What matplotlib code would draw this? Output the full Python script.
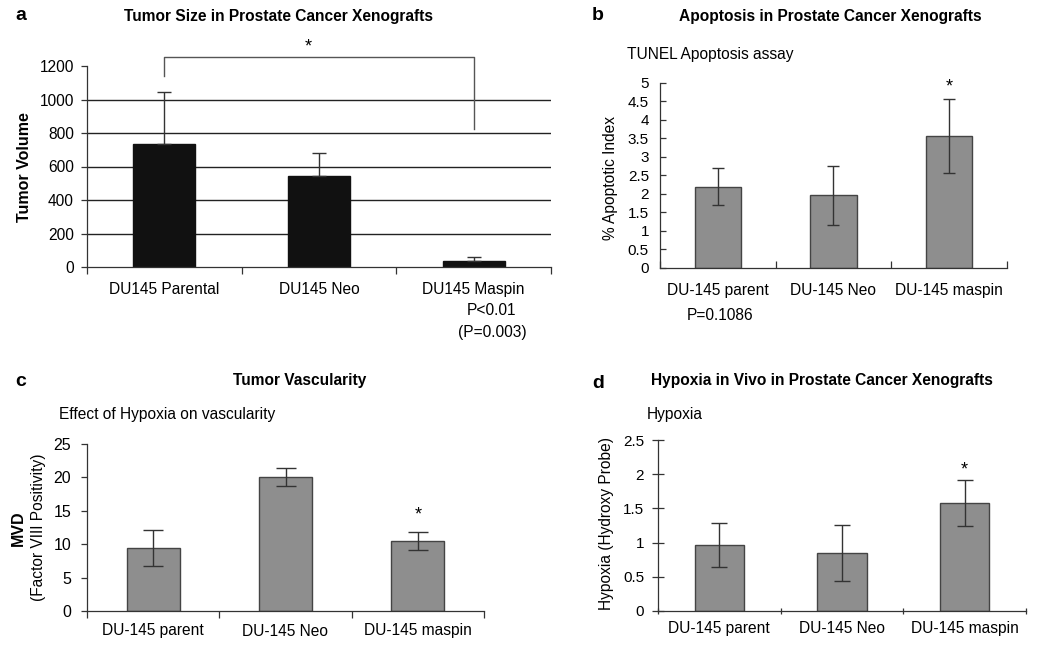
import numpy as np
import matplotlib
matplotlib.use("Agg")
import matplotlib.pyplot as plt

plt.rcParams["font.family"] = ["Liberation Sans", "DejaVu Sans"]

# ---- data -------------------------------------------------------------------
a_labels = ["DU145 Parental", "DU145 Neo", "DU145 Maspin"]
a_vol = [736, 546, 38]
a_err = [310, 136, 22]          # upper error only

cats = ["DU-145 parent", "DU-145 Neo", "DU-145 maspin"]
b_apop = [2.20, 1.97, 3.58]
b_err = [0.49, 0.80, 1.00]

c_mvd = [9.45, 20.05, 10.5]
c_err = [2.7, 1.3, 1.35]

d_hyp = [0.97, 0.85, 1.58]
d_err = [0.32, 0.41, 0.34]

W, H = 1040, 645
fig = plt.figure(figsize=(W / 100, H / 100), dpi=100)

TXT = 11.2
TTL = 11.2


def px_axes(l, t, r, b):
    return fig.add_axes([l / W, 1 - b / H, (r - l) / W, (b - t) / H])


def ftext(x, y, s, **kw):
    fig.text(x / W, 1 - y / H, s, **kw)


def style(ax, ylim, yticks, tickdir, ylen, ypad, tsize, cat_labels, xpad, xdir):
    x = np.arange(3)
    ax.set_xlim(-0.5, 2.5)
    ax.set_ylim(*ylim)
    ax.set_yticks(yticks)
    ax.set_yticklabels([f"{v:g}" for v in yticks], fontsize=tsize)
    ax.tick_params(axis="y", direction=tickdir, length=ylen, width=0.9, pad=ypad, color="#333")
    ax.set_xticks(x)
    ax.set_xticklabels(cat_labels, fontsize=TXT)
    ax.tick_params(axis="x", which="major", length=0, pad=xpad)
    ax.set_xticks([-0.5, 0.5, 1.5, 2.5], minor=True)
    ax.tick_params(axis="x", which="minor", direction=xdir, length=5, width=0.9, color="#333")
    for s in ["top", "right"]:
        ax.spines[s].set_visible(False)
    for s in ["left", "bottom"]:
        ax.spines[s].set_color("#333")
        ax.spines[s].set_linewidth(0.9)


gray = "#8e8e8e"
x = np.arange(3)

# ---- panel a ----------------------------------------------------------------
ax = px_axes(87, 66, 551, 267)
for g in [200, 400, 600, 800, 1000]:
    ax.axhline(g, color="#222", lw=1.0, zorder=0)
ax.bar(x, a_vol, width=0.40, color="#111", edgecolor="#111", zorder=2,
       yerr=[[0, 0, 0], a_err], error_kw=dict(ecolor="#333", elinewidth=1, capsize=5, capthick=1))
style(ax, (0, 1200), [0, 200, 400, 600, 800, 1000, 1200], "out", 4.5, 5, 11.2,
      a_labels, 11, "out")
ax.plot([0, 0, 2, 2], [1140, 1254, 1254, 824], color="#555", lw=1, clip_on=False)
ax.text(0.93, 1315, "*", ha="center", va="center", fontsize=13)
ftext(21, 15, "a", fontsize=14, fontweight="bold", ha="center", va="center")
ftext(279, 17, "Tumor Size in Prostate Cancer Xenografts", fontsize=TTL, fontweight="bold",
      ha="center", va="center")
ftext(25, 167, "Tumor Volume", fontsize=11.5, fontweight="bold", rotation=90,
      ha="center", va="center")
ftext(492, 311, "P<0.01", fontsize=TXT, ha="center", va="center")
ftext(492, 333, "(P=0.003)", fontsize=TXT, ha="center", va="center")

ekw = dict(ecolor="#333", elinewidth=1, capthick=1)

# ---- panel b ----------------------------------------------------------------
ax = px_axes(660, 83, 1007, 268)
ax.bar(x, b_apop, width=0.40, color=gray, edgecolor="#444", linewidth=1,
       yerr=b_err, error_kw=dict(capsize=4.5, **ekw))
style(ax, (0, 5), [0, 0.5, 1, 1.5, 2, 2.5, 3, 3.5, 4, 4.5, 5], "in", 4, 8, 11,
      cats, 11, "in")
ax.text(2, 4.88, "*", ha="center", va="center", fontsize=13)
ftext(598, 15, "b", fontsize=14, fontweight="bold", ha="center", va="center")
ftext(830, 17, "Apoptosis in Prostate Cancer Xenografts", fontsize=TTL, fontweight="bold",
      ha="center", va="center")
ftext(627, 54, "TUNEL Apoptosis assay", fontsize=TXT, ha="left", va="center")
ftext(610, 178, "% Apoptotic Index", fontsize=TXT, rotation=90, ha="center", va="center")
ftext(720, 315, "P=0.1086", fontsize=TXT, ha="center", va="center")

# ---- panel c ----------------------------------------------------------------
ax = px_axes(87, 444, 484, 611)
ax.bar(x, c_mvd, width=0.40, color=gray, edgecolor="#444", linewidth=1,
       yerr=c_err, error_kw=dict(capsize=7, **ekw))
style(ax, (0, 25), [0, 5, 10, 15, 20, 25], "out", 4.5, 7, 11.5, cats, 9, "out")
ax.text(2, 14.4, "*", ha="center", va="center", fontsize=13)
ftext(21, 382, "c", fontsize=14, fontweight="bold", ha="center", va="center")
ftext(300, 380, "Tumor Vascularity", fontsize=TTL, fontweight="bold", ha="center", va="center")
ftext(59, 414, "Effect of Hypoxia on vascularity", fontsize=TXT, ha="left", va="center")
ftext(18, 528, "MVD", fontsize=11.5, fontweight="bold", rotation=90, ha="center", va="center")
ftext(39, 527, "(Factor VIII Positivity)", fontsize=TXT, rotation=90, ha="center", va="center")

# ---- panel d ----------------------------------------------------------------
ax = px_axes(658, 440, 1026, 611)
ax.bar(x, d_hyp, width=0.40, color=gray, edgecolor="#444", linewidth=1,
       yerr=d_err, error_kw=dict(capsize=6, **ekw))
style(ax, (0, 2.5), [0, 0.5, 1, 1.5, 2, 2.5], "inout", 8, 6, 11, cats, 7, "inout")
ax.text(2, 2.06, "*", ha="center", va="center", fontsize=13)
ftext(598, 383, "d", fontsize=14, fontweight="bold", ha="center", va="center")
ftext(822, 380, "Hypoxia in Vivo in Prostate Cancer Xenografts", fontsize=TTL,
      fontweight="bold", ha="center", va="center")
ftext(647, 414, "Hypoxia", fontsize=TXT, ha="left", va="center")
ftext(607, 523, "Hypoxia (Hydroxy Probe)", fontsize=TXT, rotation=90, ha="center", va="center")

fig.savefig("out.png", dpi=100)
